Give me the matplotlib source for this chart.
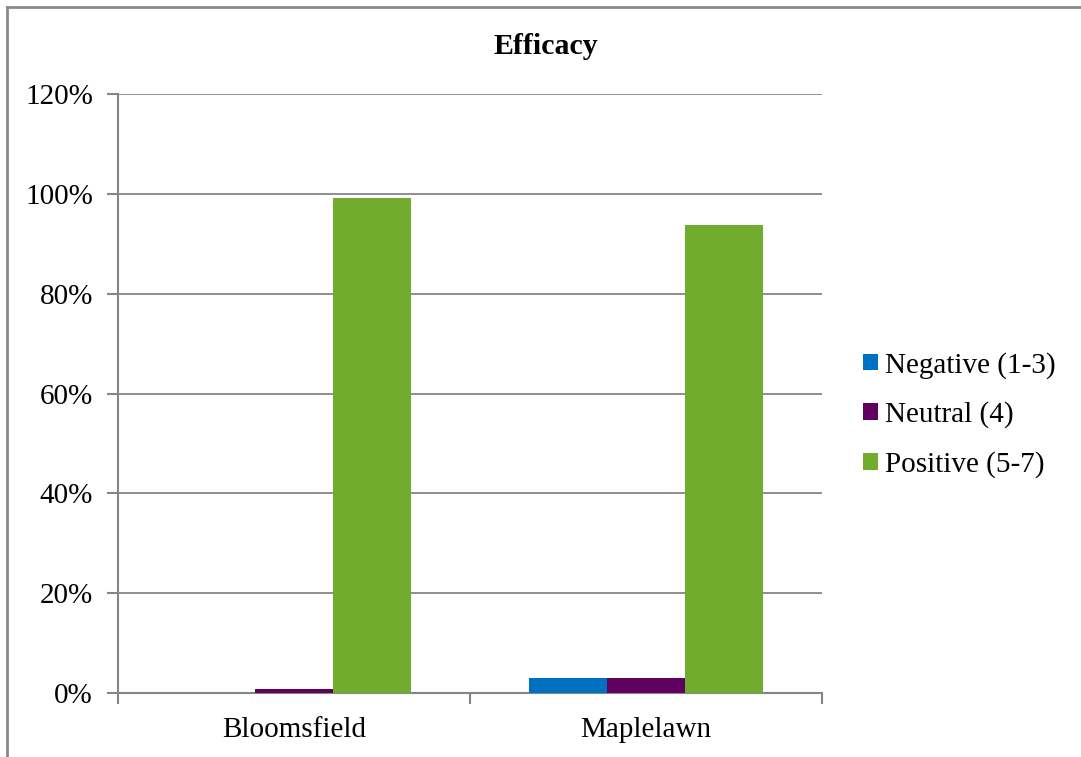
import numpy as np
import matplotlib.pyplot as plt
from matplotlib.lines import Line2D
from matplotlib.patches import Patch

# Efficacy ratings per site (share of responses)
sites = ['Bloomsfield', 'Maplelawn']
series = ['Negative (1-3)', 'Neutral (4)', 'Positive (5-7)']
negative = [0.0, 3.1]
neutral = [0.8, 3.1]
positive = [99.1, 93.7]
colors = ['#0070C0', '#600060', '#71AC2F']

plt.rcParams['font.family'] = ['Liberation Serif', 'DejaVu Serif']

fig = plt.figure(figsize=(10.81, 7.57), dpi=100)
W, H = 1081, 757
ax = fig.add_axes([118 / W, (H - 693) / H, (822 - 118) / W, (693 - 94) / H])

grid_c = '#868686'
fs = 21
w = 1 / 4.5
centers = np.arange(len(sites)) + 0.5
for i, (vals, c) in enumerate(zip([negative, neutral, positive], colors)):
    ax.bar(centers + (i - 1) * w, vals, width=w, color=c, label=series[i], zorder=3)

ax.set_xlim(0, 2)
ax.set_ylim(0, 120)
ax.set_yticks(np.arange(0, 121, 20))
ax.set_yticklabels([f'{v}%' for v in range(0, 121, 20)], fontsize=fs)
ax.set_xticks([0, 1, 2])
ax.set_xticklabels([])
ax.set_xticks(centers, minor=True)
ax.set_xticklabels(sites, minor=True, fontsize=fs)
ax.tick_params(axis='x', which='minor', length=0, pad=17)
ax.tick_params(axis='x', which='major', length=8, width=1.5, color=grid_c)
ax.tick_params(axis='y', length=8, width=1.5, color=grid_c, pad=10)
ax.yaxis.grid(True, color=grid_c, linewidth=1.3, zorder=0)
for s in ['top', 'right']:
    ax.spines[s].set_visible(False)
for s in ['left', 'bottom']:
    ax.spines[s].set_color(grid_c)
    ax.spines[s].set_linewidth(1.5)

fig.text(546 / W, (H - 46) / H, 'Efficacy', ha='center', va='center',
         fontsize=21.5, fontweight='bold')

handles = [Patch(facecolor=c, edgecolor='none') for c in colors]
fig.legend(handles, series, loc='center left', bbox_to_anchor=(863 / W, (H - 415) / H),
           frameon=False, fontsize=fs, handlelength=0.5, handleheight=0.5,
           handletextpad=0.25, labelspacing=0.78, borderpad=0, borderaxespad=0)

# chart area border (extends past the right and bottom edges)
fig.add_artist(Line2D([7 / W, 1.0], [(H - 7) / H, (H - 7) / H], color='#8a8a8a', lw=2,
                      transform=fig.transFigure))
fig.add_artist(Line2D([7 / W, 7 / W], [0.0, (H - 7) / H], color='#8a8a8a', lw=2,
                      transform=fig.transFigure))

fig.savefig('out.png', dpi=100)
